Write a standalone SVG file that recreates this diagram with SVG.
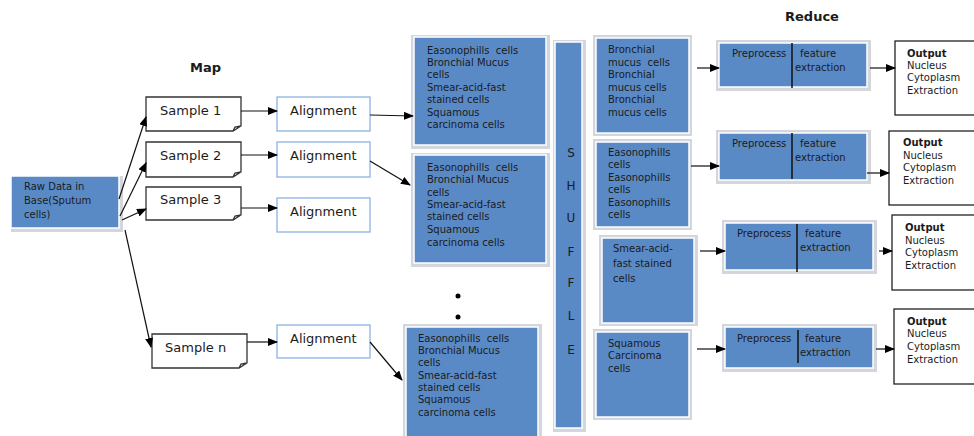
<svg xmlns="http://www.w3.org/2000/svg" width="974" height="436" viewBox="0 0 974 436">
<defs>
<marker id="ah" markerUnits="userSpaceOnUse" markerWidth="10" markerHeight="8" refX="9" refY="4" orient="auto"><path d="M0,0 L10,4 L0,8 Z" fill="#000"/></marker>
</defs>
<style>
.t{font-family:"DejaVu Sans","Liberation Sans",sans-serif;fill:#1b1b1b;white-space:pre}
.s{font-size:10px}
.m{font-size:13px}
.b{font-weight:bold}
.blue{fill:#5a8ac6;stroke:#ffffff;stroke-width:1.5}
.sh{fill:#d3d7dd}
.samp{fill:#fff;stroke:#333;stroke-width:1.3}
.al{fill:#fff;stroke:#8db3e2;stroke-width:1.3}
.out{fill:#fff;stroke:#222;stroke-width:1.3}
.c line,.c path{stroke:#111;stroke-width:1.2;fill:none;marker-end:url(#ah)}
.div{stroke:#111;stroke-width:1.5}
</style>
<rect width="974" height="436" fill="#fff"/>

<text class="t m b" x="190" y="72">Map</text>
<text class="t m b" x="785" y="21">Reduce</text>

<g id="raw">
<rect class="sh" x="11" y="176" width="112" height="56"/>
<rect class="blue" x="11" y="176" width="108" height="52"/>
<text class="t s"><tspan x="24" y="190">Raw Data in</tspan><tspan x="24" y="204">Base(Sputum</tspan><tspan x="24" y="218">cells)</tspan></text>
</g>

<g id="sample1"><path class="samp" d="M146,97 H241 V126 L233,131 H146 Z M233,131 L235,127 L241,126"/><text class="t m" x="160" y="115">Sample 1</text></g>
<g id="sample2"><path class="samp" d="M146,142 H241 V172 L233,177 H146 Z M233,177 L235,173 L241,172"/><text class="t m" x="160" y="160">Sample 2</text></g>
<g id="sample3"><path class="samp" d="M146,187 H241 V215 L233,220 H146 Z M233,220 L235,216 L241,215"/><text class="t m" x="160" y="204">Sample 3</text></g>
<g id="samplen"><path class="samp" d="M152,334 H247 V363 L239,368 H152 Z M239,368 L241,364 L247,363"/><text class="t m" x="165" y="352">Sample n</text></g>

<g id="align1"><rect class="al" x="277" y="97" width="93" height="34"/><text class="t m" x="290" y="115">Alignment</text></g>
<g id="align2"><rect class="al" x="277" y="142" width="93" height="35"/><text class="t m" x="290" y="160">Alignment</text></g>
<g id="align3"><rect class="al" x="277" y="198" width="93" height="34"/><text class="t m" x="290" y="216">Alignment</text></g>
<g id="alignn"><rect class="al" x="277" y="325" width="93" height="33"/><text class="t m" x="290" y="343">Alignment</text></g>

<g id="map1">
<rect class="sh" x="411" y="35" width="139" height="114"/>
<rect class="blue" x="414" y="37" width="132" height="108"/>
<text class="t s"><tspan x="427" y="54">Easonophills  cells</tspan><tspan x="427" y="66">Bronchial Mucus</tspan><tspan x="427" y="78">cells</tspan><tspan x="427" y="91">Smear-acid-fast</tspan><tspan x="427" y="103">stained cells</tspan><tspan x="427" y="116">Squamous</tspan><tspan x="427" y="128">carcinoma cells</tspan></text>
</g>
<g id="map2">
<rect class="sh" x="411" y="153" width="139" height="114"/>
<rect class="blue" x="414" y="155" width="132" height="108"/>
<text class="t s"><tspan x="427" y="171">Easonophills  cells</tspan><tspan x="427" y="183">Bronchial Mucus</tspan><tspan x="427" y="196">cells</tspan><tspan x="427" y="208">Smear-acid-fast</tspan><tspan x="427" y="220">stained cells</tspan><tspan x="427" y="233">Squamous</tspan><tspan x="427" y="246">carcinoma cells</tspan></text>
</g>
<g id="mapn">
<rect class="sh" x="403" y="324" width="139" height="114"/>
<rect class="blue" x="406" y="327" width="132" height="112"/>
<text class="t s"><tspan x="418" y="342">Easonophills  cells</tspan><tspan x="418" y="354">Bronchial Mucus</tspan><tspan x="418" y="366">cells</tspan><tspan x="418" y="379">Smear-acid-fast</tspan><tspan x="418" y="391">stained cells</tspan><tspan x="418" y="403">Squamous</tspan><tspan x="418" y="416">carcinoma cells</tspan></text>
</g>
<g id="dots"><circle cx="458" cy="296" r="2.5" fill="#000"/><circle cx="458" cy="317" r="2.5" fill="#000"/></g>

<g id="shuffle">
<rect class="sh" x="553" y="40" width="33" height="392"/>
<rect class="blue" x="555" y="42" width="27" height="386"/>
<text class="t" font-size="12" text-anchor="middle"><tspan x="571" y="157">S</tspan><tspan x="571" y="190">H</tspan><tspan x="571" y="222">U</tspan><tspan x="571" y="256">F</tspan><tspan x="571" y="287">F</tspan><tspan x="571" y="320">L</tspan><tspan x="571" y="354">E</tspan></text>
</g>

<g id="red1">
<rect class="sh" x="593" y="35" width="99" height="101"/>
<rect class="blue" x="596" y="38" width="93" height="95"/>
<text class="t s"><tspan x="608" y="53">Bronchial</tspan><tspan x="608" y="66">mucus  cells</tspan><tspan x="608" y="78">Bronchial</tspan><tspan x="608" y="91">mucus cells</tspan><tspan x="608" y="103">Bronchial</tspan><tspan x="608" y="116">mucus cells</tspan></text>
</g>
<g id="red2">
<rect class="sh" x="593" y="139" width="99" height="91"/>
<rect class="blue" x="596" y="142" width="93" height="85"/>
<text class="t s"><tspan x="608" y="156">Easonophills</tspan><tspan x="608" y="168">cells</tspan><tspan x="608" y="181">Easonophills</tspan><tspan x="608" y="193">cells</tspan><tspan x="608" y="206">Easonophills</tspan><tspan x="608" y="218">cells</tspan></text>
</g>
<g id="red3">
<rect class="sh" x="599" y="235" width="99" height="91"/>
<rect class="blue" x="602" y="238" width="92" height="85"/>
<text class="t s"><tspan x="613" y="252">Smear-acid-</tspan><tspan x="613" y="267">fast stained</tspan><tspan x="613" y="282">cells</tspan></text>
</g>
<g id="red4">
<rect class="sh" x="593" y="329" width="99" height="91"/>
<rect class="blue" x="596" y="332" width="93" height="85"/>
<text class="t s"><tspan x="608" y="347">Squamous</tspan><tspan x="608" y="359">Carcinoma</tspan><tspan x="608" y="372">cells</tspan></text>
</g>

<g id="pre1">
<rect class="sh" x="716" y="40" width="155" height="51"/>
<rect class="blue" x="719" y="43" width="148" height="44"/>
<line class="div" x1="792" y1="43" x2="792" y2="88"/>
<text class="t s"><tspan x="732" y="57">Preprocess</tspan><tspan x="800" y="57">feature</tspan><tspan x="795" y="71">extraction</tspan></text>
</g>
<g id="pre2">
<rect class="sh" x="716" y="130" width="155" height="54"/>
<rect class="blue" x="719" y="133" width="148" height="47"/>
<line class="div" x1="792" y1="133" x2="792" y2="179"/>
<text class="t s"><tspan x="732" y="147">Preprocess</tspan><tspan x="800" y="147">feature</tspan><tspan x="795" y="161">extraction</tspan></text>
</g>
<g id="pre3">
<rect class="sh" x="722" y="220" width="155" height="54"/>
<rect class="blue" x="725" y="223" width="148" height="47"/>
<line class="div" x1="797" y1="224" x2="797" y2="272"/>
<text class="t s"><tspan x="737" y="237">Preprocess</tspan><tspan x="805" y="237">feature</tspan><tspan x="800" y="251">extraction</tspan></text>
</g>
<g id="pre4">
<rect class="sh" x="722" y="324" width="155" height="48"/>
<rect class="blue" x="725" y="327" width="148" height="41"/>
<line class="div" x1="798" y1="330" x2="798" y2="363"/>
<text class="t s"><tspan x="737" y="342">Preprocess</tspan><tspan x="805" y="342">feature</tspan><tspan x="800" y="356">extraction</tspan></text>
</g>

<g id="out1"><rect class="out" x="895" y="41" width="90" height="74"/><text class="t s"><tspan class="b" x="907" y="57">Output</tspan><tspan x="907" y="69">Nucleus</tspan><tspan x="907" y="81">Cytoplasm</tspan><tspan x="907" y="94">Extraction</tspan></text></g>
<g id="out2"><rect class="out" x="889" y="131" width="95" height="74"/><text class="t s"><tspan class="b" x="903" y="146">Output</tspan><tspan x="903" y="159">Nucleus</tspan><tspan x="903" y="171">Cytoplasm</tspan><tspan x="903" y="184">Extraction</tspan></text></g>
<g id="out3"><rect class="out" x="892" y="215" width="92" height="75"/><text class="t s"><tspan class="b" x="905" y="231">Output</tspan><tspan x="905" y="244">Nucleus</tspan><tspan x="905" y="256">Cytoplasm</tspan><tspan x="905" y="269">Extraction</tspan></text></g>
<g id="out4"><rect class="out" x="894" y="309" width="90" height="75"/><text class="t s"><tspan class="b" x="907" y="325">Output</tspan><tspan x="907" y="337">Nucleus</tspan><tspan x="907" y="350">Cytoplasm</tspan><tspan x="907" y="363">Extraction</tspan></text></g>

<g id="connectors" class="c">
<line x1="119" y1="199" x2="146" y2="117"/>
<line x1="120" y1="216" x2="146" y2="163"/>
<line x1="122" y1="220" x2="146" y2="209"/>
<line x1="125" y1="230" x2="151" y2="347"/>
<line x1="241" y1="111" x2="277" y2="111"/>
<line x1="241" y1="155" x2="277" y2="155"/>
<line x1="241" y1="208" x2="277" y2="208"/>
<line x1="247" y1="342" x2="277" y2="342"/>
<line x1="370" y1="115" x2="413" y2="116"/>
<line x1="370" y1="161" x2="410" y2="185"/>
<line x1="370" y1="342" x2="402" y2="380"/>
<line x1="697" y1="68" x2="719" y2="68"/>
<line x1="870" y1="68" x2="895" y2="68"/>
<line x1="691" y1="166" x2="719" y2="166"/>
<line x1="867" y1="173" x2="889" y2="173"/>
<line x1="700" y1="251" x2="725" y2="251"/>
<line x1="879" y1="251" x2="892" y2="251"/>
<line x1="697" y1="349" x2="725" y2="349"/>
<line x1="876" y1="349" x2="894" y2="349"/>
</g>
</svg>
